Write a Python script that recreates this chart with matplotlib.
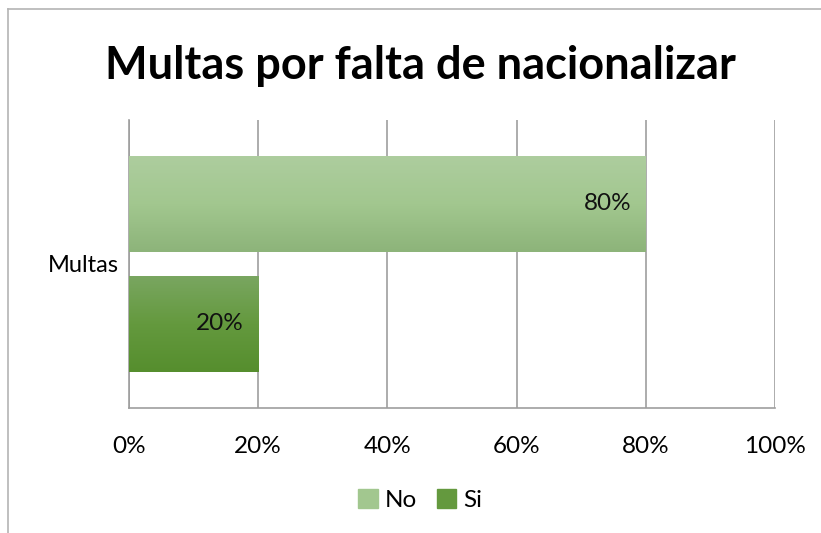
import numpy as np
import matplotlib
matplotlib.use("Agg")
import matplotlib.pyplot as plt
from matplotlib.lines import Line2D
from matplotlib.patches import Rectangle
from matplotlib.colors import LinearSegmentedColormap

plt.rcParams["font.family"] = ["Lato", "DejaVu Sans"]

title = "Multas por falta de nacionalizar"
category = "Multas"
series = ["No", "Si"]
values = [80, 20]
ticks = [0, 20, 40, 60, 80, 100]

# gradient colours (top -> bottom) per series
grads = {
    "No": ["#adcd9e", "#a2c78f", "#8db47a"],
    "Si": ["#79a660", "#64993e", "#568e2e"],
}
ypos = [0.625, -0.625]
bar_h = 1.0

fig = plt.figure(figsize=(8.21, 5.33), dpi=100)
ax = fig.add_axes([129 / 821, 1 - 408 / 533, 646 / 821, 288 / 533])

for name, v, y in zip(series, values, ypos):
    bar = ax.barh(y, v, height=bar_h, color=grads[name][1], zorder=2)[0]
    cmap = LinearSegmentedColormap.from_list(name, grads[name][::-1])
    grad = np.linspace(0, 1, 64).reshape(-1, 1)
    im = ax.imshow(grad, extent=(0, v, y - bar_h / 2, y + bar_h / 2),
                   origin="lower", aspect="auto", cmap=cmap, zorder=3)
    im.set_clip_path(bar)
    ax.text(v - 2.2, y, f"{v}%", ha="right", va="center", fontsize=17.5,
            color="#111111", zorder=4)

ax.set_xlim(0, 100)
ax.set_ylim(-1.5, 1.5)
ax.set_aspect("auto")
ax.set_xticks(ticks)
ax.set_xticklabels([f"{t}%" for t in ticks], fontsize=17.5)
ax.set_yticks([0])
ax.set_yticklabels([category], fontsize=17)
ax.tick_params(axis="x", length=0, pad=20)
ax.tick_params(axis="y", length=0, pad=7)
ax.grid(axis="x", color="#9e9e9e", lw=1.2, zorder=0)
ax.set_axisbelow(True)
for s in ("top", "right"):
    ax.spines[s].set_visible(False)
for s in ("left", "bottom"):
    ax.spines[s].set_color("#9e9e9e")
    ax.spines[s].set_linewidth(1.2)

fig.text(0.512, 1 - 66 / 533, title, ha="center", va="center",
         fontsize=32.5, fontweight="bold")

handles = [Rectangle((0, 0), 1, 1, color=grads[n][1]) for n in series]
fig.legend(handles, series, loc="center", bbox_to_anchor=(0.512, 1 - 500 / 533),
           ncol=2, frameon=False, fontsize=17.5, handlelength=0.8,
           handleheight=0.8, handletextpad=0.3, columnspacing=0.8)

# chart border (only top and left edges visible in the crop)
fig.add_artist(Line2D([8 / 821, 1], [1 - 9 / 533] * 2, color="#b4b4b4", lw=1.2))
fig.add_artist(Line2D([8 / 821] * 2, [0, 1 - 9 / 533], color="#b4b4b4", lw=1.2))

fig.savefig("out.png", dpi=100)
